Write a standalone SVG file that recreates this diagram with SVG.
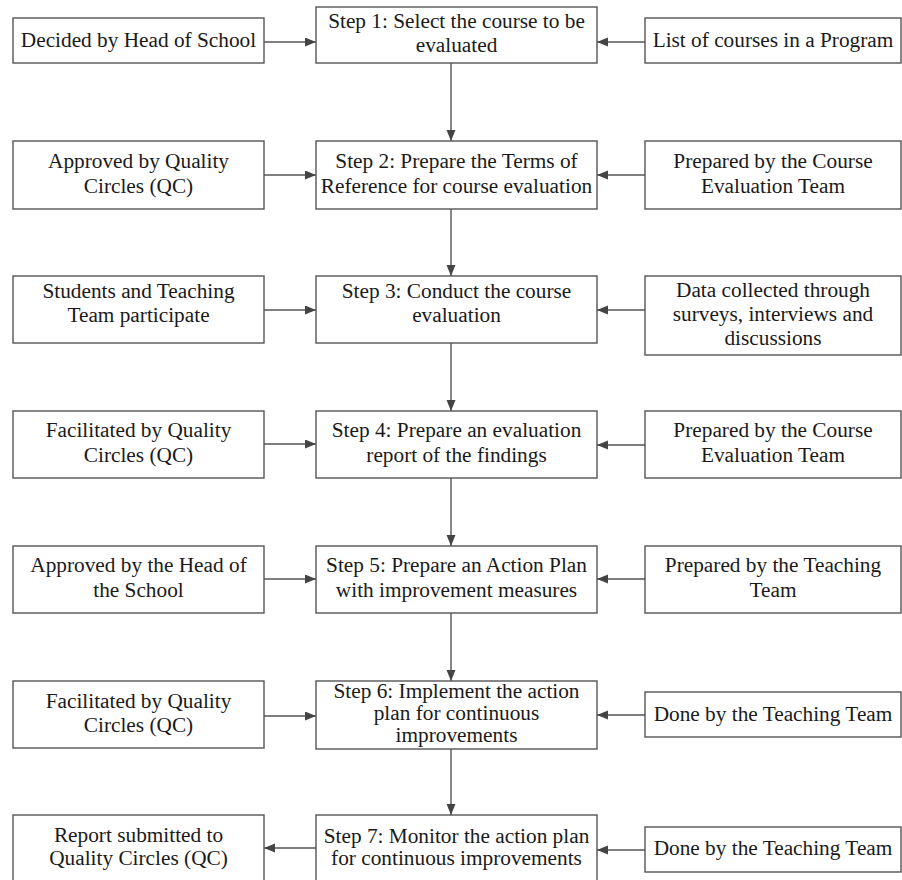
<svg xmlns="http://www.w3.org/2000/svg" width="902" height="880" viewBox="0 0 902 880">
<style>
.b{fill:#fff;stroke:#555;stroke-width:1.4}
.t text{font-family:'Liberation Serif','Tinos','Noto Serif','DejaVu Serif',serif;font-size:21.3px;fill:#1a1a1a;text-anchor:middle}
.c{stroke:#555;stroke-width:1.4;fill:none;marker-end:url(#ah)}
</style>
<defs>
<marker id="ah" markerUnits="userSpaceOnUse" markerWidth="12" markerHeight="10" refX="11" refY="4.5" orient="auto">
<path d="M0,0 L11,4.5 L0,9 z" fill="#444"/>
</marker>
</defs>
<rect width="902" height="880" fill="#fff"/>

<g id="connectors">
<path class="c" d="M264,42 H316"/>
<path class="c" d="M645,42 H597"/>
<path class="c" d="M451,63 V141"/>
<path class="c" d="M264,175 H316"/>
<path class="c" d="M645,175 H597"/>
<path class="c" d="M451,209 V276"/>
<path class="c" d="M264,310 H316"/>
<path class="c" d="M645,310 H597"/>
<path class="c" d="M451,343 V411"/>
<path class="c" d="M264,444 H316"/>
<path class="c" d="M645,445 H597"/>
<path class="c" d="M451,478 V546"/>
<path class="c" d="M264,579 H316"/>
<path class="c" d="M645,579 H597"/>
<path class="c" d="M451,613 V681"/>
<path class="c" d="M264,716 H316"/>
<path class="c" d="M645,715 H597"/>
<path class="c" d="M451,749 V815"/>
<path class="c" d="M316,848 H264"/>
<path class="c" d="M645,850 H597"/>
</g>

<g class="t">
<g id="l1"><rect class="b" x="13" y="18" width="251" height="45"/><text x="138.5" y="47">Decided by Head of School</text></g>
<g id="s1"><rect class="b" x="316" y="7" width="281" height="56"/><text x="456.5" y="28">Step 1: Select the course to be</text><text x="456.5" y="52">evaluated</text></g>
<g id="r1"><rect class="b" x="645" y="18" width="256" height="45"/><text x="773" y="47">List of courses in a Program</text></g>

<g id="l2"><rect class="b" x="13" y="141" width="251" height="68"/><text x="138.5" y="168">Approved by Quality</text><text x="138.5" y="193">Circles (QC)</text></g>
<g id="s2"><rect class="b" x="316" y="141" width="281" height="68"/><text x="456.5" y="168">Step 2: Prepare the Terms of</text><text x="456.5" y="193">Reference for course evaluation</text></g>
<g id="r2"><rect class="b" x="645" y="141" width="256" height="68"/><text x="773" y="168">Prepared by the Course</text><text x="773" y="193">Evaluation Team</text></g>

<g id="l3"><rect class="b" x="13" y="276" width="251" height="67"/><text x="138.5" y="298">Students and Teaching</text><text x="138.5" y="322">Team participate</text></g>
<g id="s3"><rect class="b" x="316" y="276" width="281" height="67"/><text x="456.5" y="298">Step 3: Conduct the course</text><text x="456.5" y="322">evaluation</text></g>
<g id="r3"><rect class="b" x="645" y="276" width="256" height="79"/><text x="773" y="297">Data collected through</text><text x="773" y="321">surveys, interviews and</text><text x="773" y="345">discussions</text></g>

<g id="l4"><rect class="b" x="13" y="411" width="251" height="67"/><text x="138.5" y="437">Facilitated by Quality</text><text x="138.5" y="462">Circles (QC)</text></g>
<g id="s4"><rect class="b" x="316" y="411" width="281" height="67"/><text x="456.5" y="437">Step 4: Prepare an evaluation</text><text x="456.5" y="462">report of the findings</text></g>
<g id="r4"><rect class="b" x="645" y="411" width="256" height="67"/><text x="773" y="437">Prepared by the Course</text><text x="773" y="462">Evaluation Team</text></g>

<g id="l5"><rect class="b" x="13" y="546" width="251" height="67"/><text x="138.5" y="572">Approved by the Head of</text><text x="138.5" y="597">the School</text></g>
<g id="s5"><rect class="b" x="316" y="546" width="281" height="67"/><text x="456.5" y="572">Step 5: Prepare an Action Plan</text><text x="456.5" y="597">with improvement measures</text></g>
<g id="r5"><rect class="b" x="645" y="546" width="256" height="67"/><text x="773" y="572">Prepared by the Teaching</text><text x="773" y="597">Team</text></g>

<g id="l6"><rect class="b" x="13" y="681" width="251" height="67"/><text x="138.5" y="708">Facilitated by Quality</text><text x="138.5" y="732">Circles (QC)</text></g>
<g id="s6"><rect class="b" x="316" y="681" width="281" height="68"/><text x="456.5" y="698">Step 6: Implement the action</text><text x="456.5" y="720">plan for continuous</text><text x="456.5" y="742">improvements</text></g>
<g id="r6"><rect class="b" x="645" y="692" width="256" height="45"/><text x="773" y="721">Done by the Teaching Team</text></g>

<g id="l7"><rect class="b" x="13" y="815" width="251" height="70"/><text x="138.5" y="842">Report submitted to</text><text x="138.5" y="865">Quality Circles (QC)</text></g>
<g id="s7"><rect class="b" x="316" y="815" width="281" height="70"/><text x="456.5" y="843">Step 7: Monitor the action plan</text><text x="456.5" y="865">for continuous improvements</text></g>
<g id="r7"><rect class="b" x="645" y="827" width="256" height="45"/><text x="773" y="855">Done by the Teaching Team</text></g>
</g>
</svg>
